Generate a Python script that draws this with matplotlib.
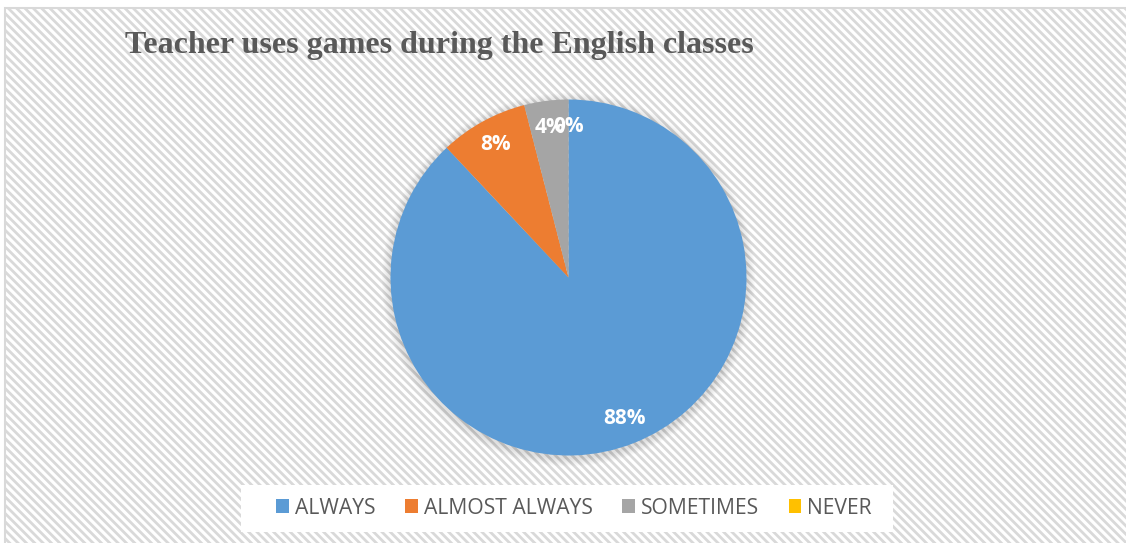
import matplotlib.pyplot as plt
from matplotlib.patches import Rectangle, Circle

# respuestas de la encuesta (porcentaje)
categorias = ["ALWAYS", "ALMOST ALWAYS", "SOMETIMES", "NEVER"]
porcentajes = [88, 8, 4, 0]
colores = ["#5B9BD5", "#ED7D31", "#A5A5A5", "#FFC000"]
titulo = "Teacher uses games during the English classes"

W, H = 1126, 543
plt.rcParams["hatch.linewidth"] = 2.0
plt.rcParams["hatch.color"] = "#f5f5f5"

fig = plt.figure(figsize=(W / 100, H / 100), dpi=100)
fig.patch.set_facecolor("white")

# fondo del area del grafico con rayado diagonal
fondo = fig.add_axes([0, 0, 1, 1])
fondo.set_xlim(0, W)
fondo.set_ylim(H, 0)
fondo.axis("off")
fondo.add_patch(Rectangle((5, 8), W + 20, H + 20, facecolor="white",
                          edgecolor="#d9d9d9", linewidth=1.5, hatch="\\\\\\\\"))
# caja blanca de la leyenda
fondo.add_patch(Rectangle((241, 485), 652, 47, facecolor="white", edgecolor="none"))

fig.text(125 / W, 1 - 45 / H, titulo, fontsize=23, fontweight="bold",
         family="Liberation Serif", color="#595959", va="center", ha="left")

ax = fig.add_axes([390.5 / W, 87.5 / H, 356 / W, 356 / H])
ax.axis("off")

# sombra suave alrededor del circulo
for i in range(8):
    ax.add_patch(Circle((0, -0.012), 1.0 + 0.006 * (i + 1), color="black",
                        alpha=0.016, linewidth=0, zorder=0, clip_on=False))

wedges, textos, pcts = ax.pie(porcentajes, colors=colores, startangle=90,
                              counterclock=False, radius=1.0,
                              autopct="%.0f%%", pctdistance=0.85,
                              wedgeprops={"linewidth": 0})
for t in pcts:
    t.set_color("white")
    t.set_fontweight("bold")
    t.set_fontsize(15)
    t.set_family("Open Sans")

ax.set_xlim(-1, 1)
ax.set_ylim(-1, 1)
ax.set_aspect("equal")

fig.legend(wedges, categorias, loc="center", bbox_to_anchor=(574 / W, 1 - 508 / H),
           ncol=4, frameon=False, handlelength=0.61, handleheight=0.61,
           handletextpad=0.28, columnspacing=1.4,
           prop={"family": "Open Sans", "size": 15.2}, labelcolor="#595959")

fig.savefig("out.png", dpi=100)
